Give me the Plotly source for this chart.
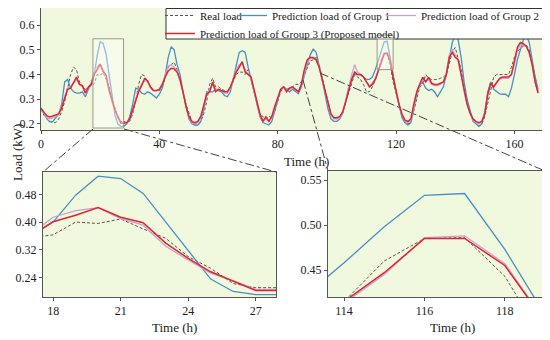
import plotly.graph_objects as go

# ---------------- data ----------------
hours = list(range(169))

real_load = [
    0.26, 0.235, 0.22, 0.21, 0.205, 0.205, 0.22, 0.25, 0.29, 0.35, 0.40, 0.43,
    0.42, 0.37, 0.35, 0.34, 0.35, 0.355, 0.363, 0.40, 0.396, 0.409, 0.38, 0.353,
    0.30, 0.266, 0.222, 0.21, 0.21, 0.205, 0.21, 0.24, 0.29, 0.36, 0.40, 0.395,
    0.37, 0.35, 0.335, 0.335, 0.335, 0.35, 0.39, 0.43, 0.44, 0.45, 0.42, 0.38,
    0.33, 0.28, 0.24, 0.21, 0.195, 0.195, 0.21, 0.24, 0.29, 0.36, 0.385, 0.35,
    0.35, 0.34, 0.335, 0.33, 0.345, 0.37, 0.40, 0.41, 0.41, 0.40, 0.42, 0.38,
    0.33, 0.28, 0.235, 0.23, 0.22, 0.23, 0.225, 0.25, 0.29, 0.33, 0.35, 0.34,
    0.345, 0.35, 0.36, 0.36, 0.37, 0.40, 0.43, 0.455, 0.46, 0.47, 0.44, 0.39,
    0.33, 0.28, 0.24, 0.225, 0.22, 0.225, 0.245, 0.29, 0.33, 0.37, 0.40, 0.39,
    0.38, 0.36, 0.33, 0.33, 0.35, 0.38, 0.415, 0.46, 0.485, 0.486, 0.443, 0.37,
    0.32, 0.27, 0.23, 0.205, 0.20, 0.205, 0.25, 0.30, 0.35, 0.36, 0.40, 0.385,
    0.38, 0.38, 0.38, 0.385, 0.39, 0.40, 0.45, 0.49, 0.51, 0.47, 0.42, 0.35,
    0.30, 0.25, 0.22, 0.20, 0.19, 0.20, 0.23, 0.28, 0.34, 0.39, 0.40, 0.40,
    0.40, 0.40, 0.40, 0.43, 0.47, 0.495, 0.505, 0.515, 0.52, 0.50, 0.45, 0.39,
    0.33,
]

group1 = [
    0.265, 0.24, 0.22, 0.208, 0.21, 0.225, 0.24, 0.28, 0.37, 0.38, 0.345, 0.33,
    0.325, 0.325, 0.33, 0.31, 0.34, 0.36, 0.40, 0.478, 0.533, 0.526, 0.483, 0.40,
    0.32, 0.235, 0.199, 0.19, 0.19, 0.20, 0.23, 0.28, 0.345, 0.34, 0.325, 0.32,
    0.33, 0.325, 0.315, 0.305, 0.32, 0.345, 0.40, 0.47, 0.513, 0.50, 0.44, 0.40,
    0.33, 0.27, 0.22, 0.20, 0.195, 0.195, 0.21, 0.26, 0.33, 0.33, 0.33, 0.34,
    0.335, 0.33, 0.315, 0.31, 0.33, 0.38, 0.44, 0.49, 0.497, 0.49, 0.43, 0.38,
    0.33, 0.27, 0.23, 0.205, 0.20, 0.195, 0.21, 0.25, 0.29, 0.34, 0.35, 0.34,
    0.33, 0.34, 0.33, 0.322, 0.35, 0.40, 0.44, 0.48, 0.503, 0.49, 0.44, 0.38,
    0.32, 0.26, 0.22, 0.21, 0.21, 0.22, 0.245, 0.29, 0.35, 0.38, 0.40, 0.40,
    0.40, 0.39, 0.38, 0.38, 0.39, 0.42, 0.458, 0.498, 0.533, 0.535, 0.473, 0.40,
    0.33, 0.27, 0.225, 0.205, 0.195, 0.205, 0.26, 0.32, 0.36, 0.37, 0.345, 0.335,
    0.34, 0.33, 0.31, 0.33, 0.35, 0.40, 0.47, 0.53, 0.56, 0.54, 0.47, 0.37,
    0.30, 0.25, 0.21, 0.20, 0.19, 0.20, 0.25, 0.33, 0.37, 0.34, 0.33, 0.322,
    0.32, 0.32, 0.31, 0.345, 0.40, 0.46, 0.50, 0.54, 0.56, 0.53, 0.46, 0.39,
    0.34,
]

group2 = [
    0.26, 0.24, 0.225, 0.22, 0.225, 0.23, 0.24, 0.27, 0.31, 0.345, 0.35, 0.365,
    0.38, 0.36, 0.35, 0.325, 0.345, 0.365, 0.414, 0.433, 0.442, 0.41, 0.391, 0.33,
    0.29, 0.252, 0.23, 0.205, 0.205, 0.205, 0.215, 0.25, 0.30, 0.335, 0.36, 0.375,
    0.37, 0.345, 0.335, 0.335, 0.34, 0.36, 0.40, 0.435, 0.44, 0.43, 0.41, 0.375,
    0.325, 0.27, 0.225, 0.205, 0.20, 0.205, 0.225, 0.27, 0.32, 0.34, 0.36, 0.34,
    0.34, 0.335, 0.325, 0.325, 0.345, 0.38, 0.42, 0.44, 0.445, 0.42, 0.40, 0.385,
    0.335, 0.285, 0.235, 0.21, 0.22, 0.21, 0.225, 0.265, 0.305, 0.34, 0.35, 0.335,
    0.34, 0.345, 0.34, 0.33, 0.36, 0.41, 0.45, 0.465, 0.47, 0.46, 0.43, 0.38,
    0.33, 0.28, 0.235, 0.22, 0.22, 0.225, 0.25, 0.295, 0.35, 0.40, 0.44, 0.41,
    0.40, 0.39, 0.37, 0.355, 0.365, 0.385, 0.413, 0.445, 0.486, 0.488, 0.457, 0.39,
    0.33, 0.275, 0.235, 0.21, 0.205, 0.215, 0.27, 0.325, 0.355, 0.38, 0.37, 0.38,
    0.36, 0.355, 0.355, 0.36, 0.37, 0.41, 0.48, 0.50, 0.48, 0.46, 0.40, 0.33,
    0.28, 0.24, 0.215, 0.205, 0.20, 0.21, 0.245, 0.32, 0.36, 0.355, 0.37, 0.38,
    0.385, 0.385, 0.385, 0.40, 0.44, 0.50, 0.52, 0.52, 0.515, 0.49, 0.44, 0.37,
    0.325,
]

group3 = [
    0.262, 0.245, 0.232, 0.228, 0.232, 0.235, 0.24, 0.265, 0.30, 0.34, 0.345, 0.37,
    0.39, 0.36, 0.355, 0.325, 0.35, 0.36, 0.401, 0.42, 0.442, 0.414, 0.398, 0.339,
    0.295, 0.256, 0.23, 0.202, 0.202, 0.205, 0.22, 0.26, 0.30, 0.33, 0.355, 0.383,
    0.375, 0.35, 0.335, 0.335, 0.34, 0.36, 0.39, 0.415, 0.425, 0.423, 0.41, 0.38,
    0.33, 0.27, 0.23, 0.21, 0.205, 0.21, 0.23, 0.27, 0.32, 0.33, 0.37, 0.33,
    0.34, 0.335, 0.33, 0.33, 0.35, 0.38, 0.41, 0.43, 0.452, 0.41, 0.40, 0.39,
    0.34, 0.29, 0.24, 0.21, 0.228, 0.21, 0.23, 0.27, 0.31, 0.34, 0.35, 0.33,
    0.345, 0.35, 0.34, 0.33, 0.36, 0.42, 0.46, 0.47, 0.468, 0.46, 0.43, 0.38,
    0.33, 0.28, 0.24, 0.225, 0.225, 0.23, 0.25, 0.29, 0.34, 0.38, 0.41, 0.40,
    0.40, 0.39, 0.37, 0.35, 0.36, 0.38, 0.415, 0.447, 0.485, 0.485, 0.455, 0.39,
    0.33, 0.28, 0.24, 0.215, 0.21, 0.22, 0.28, 0.33, 0.36, 0.389, 0.37, 0.389,
    0.365, 0.36, 0.36, 0.365, 0.37, 0.40, 0.47, 0.49, 0.47, 0.46, 0.40, 0.33,
    0.28, 0.245, 0.22, 0.21, 0.205, 0.21, 0.24, 0.32, 0.365, 0.35, 0.37, 0.385,
    0.39, 0.39, 0.39, 0.40, 0.45, 0.51, 0.53, 0.525, 0.515, 0.49, 0.44, 0.37,
    0.325,
]

series_names = [
    "Real load",
    "Prediction load of Group 1",
    "Prediction load of Group 2",
    "Prediction load of Group 3 (Proposed model)",
]

main_xticks = [0, 40, 80, 120, 160]
main_yticks = [0.2, 0.3, 0.4, 0.5, 0.6]
zoom1_xticks = [18, 21, 24, 27]
zoom1_yticks = [0.24, 0.32, 0.40, 0.48]
zoom2_xticks = [114, 116, 118]
zoom2_yticks = [0.45, 0.50, 0.55]

main_xrange = [0, 170]
main_yrange = [0.175, 0.67]
zoom1_xrange = [17.55, 27.9]
zoom1_yrange = [0.183, 0.545]
zoom2_xrange = [113.6, 119.0]
zoom2_yrange = [0.42, 0.56]

# ---------------- styling ----------------
OFF = 8                      # page body margin
W, H = 550 - OFF, 340 - OFF  # figure size so it fits the window
FONT = "Liberation Serif"
AX = "#555555"
BG = "#f0f8de"

line_styles = [
    dict(color="#555555", width=1, dash="3px,2px"),
    dict(color="#4a8fc4", width=1.3),
    dict(color="#c9a0d6", width=1.3),
    dict(color="#e3242b", width=1.5),
]
legend_ids = ["legend", "legend2", "legend3", "legend4"]
# (left pixel, top pixel) of each legend entry inside the legend frame
legend_pos = [(160, 1), (232, 1), (381, 1), (160, 19)]

def px(x):
    return (x - OFF) / W

def py_raw(y):
    return 1 - (y - OFF) / H

def py(y):
    return min(1.0, py_raw(y))

series = [real_load, group1, group2, group3]

fig = go.Figure()
for axes, show in [(("x", "y"), True), (("x2", "y2"), False), (("x3", "y3"), False)]:
    for name, vals, st, lg in zip(series_names, series, line_styles, legend_ids):
        fig.add_trace(go.Scatter(
            x=hours, y=vals, mode="lines", name=name, line=st,
            xaxis=axes[0], yaxis=axes[1], showlegend=show, legend=lg,
        ))

axis_common = dict(
    showline=True, mirror=True, linecolor=AX, linewidth=1,
    ticks="outside", ticklen=3, tickcolor=AX, showgrid=False, zeroline=False,
    tickfont=dict(family=FONT, size=12, color="#222"),
)

legend_common = dict(
    orientation="h", bgcolor="rgba(0,0,0,0)", borderwidth=0,
    font=dict(family=FONT, size=11, color="#222"),
    itemwidth=30, tracegroupgap=0, xanchor="left", yanchor="top",
)
legends = {}
for lg, (lx, ly) in zip(legend_ids, legend_pos):
    legends[lg] = dict(x=px(lx), y=py_raw(ly), **legend_common)

fig.update_layout(
    width=W, height=H,
    margin=dict(l=0, r=0, t=0, b=0, autoexpand=False),
    paper_bgcolor="white", plot_bgcolor=BG,
    font=dict(family=FONT, size=12, color="#222"),
    xaxis=dict(domain=[px(41), px(544)], anchor="y", range=main_xrange,
               tickvals=main_xticks, **axis_common),
    yaxis=dict(domain=[py(130), py(8)], anchor="x", range=main_yrange,
               tickvals=main_yticks, tickformat=".1f", **axis_common),
    xaxis2=dict(domain=[px(43), px(276)], anchor="y2", range=zoom1_xrange,
                tickvals=zoom1_xticks, **axis_common),
    yaxis2=dict(domain=[py(297), py(172)], anchor="x2", range=zoom1_yrange,
                tickvals=zoom1_yticks, tickformat=".2f", **axis_common),
    xaxis3=dict(domain=[px(328), px(545)], anchor="y3", range=zoom2_xrange,
                tickvals=zoom2_xticks, **axis_common),
    yaxis3=dict(domain=[py(297), py(171)], anchor="x3", range=zoom2_yrange,
                tickvals=zoom2_yticks, tickformat=".2f", **axis_common),
    **legends,
)

# legend frame
fig.add_shape(type="rect", xref="paper", yref="paper",
              x0=px(166), x1=px(545), y0=py(39), y1=py(8.5),
              line=dict(color="#333", width=1), fillcolor="white", layer="above")

# zoom rectangles on the main plot
for xr, yr in [(zoom1_xrange, zoom1_yrange), (zoom2_xrange, zoom2_yrange)]:
    fig.add_shape(type="rect", xref="x", yref="y",
                  x0=xr[0], x1=xr[1], y0=yr[0], y1=yr[1],
                  line=dict(color="#9a9a82", width=1),
                  fillcolor="rgba(255,255,255,0.4)", layer="above")

# connector lines
connectors = [
    ((93, 129), (43, 172)),
    ((124, 129), (276, 172)),
    ((320, 73), (545, 171)),
    ((303, 80), (328, 171)),
]
for (xa, ya), (xb, yb) in connectors:
    fig.add_shape(type="line", xref="paper", yref="paper",
                  x0=px(xa), y0=py(ya), x1=px(xb), y1=py(yb),
                  line=dict(color="#444", width=1, dash="dashdot"), layer="above")

title_font = dict(family=FONT, size=13, color="#222")
for (xx, yy) in [(306, 161), (174, 327), (452, 327)]:
    fig.add_annotation(text="Time (h)", x=px(xx), y=py(yy), xref="paper", yref="paper",
                       showarrow=False, font=title_font, xanchor="center", yanchor="middle")
fig.add_annotation(text="Load (kW)", x=px(17), y=py(153), xref="paper", yref="paper",
                   showarrow=False, font=title_font, textangle=-90,
                   xanchor="center", yanchor="middle")

fig.write_html("out.html")
